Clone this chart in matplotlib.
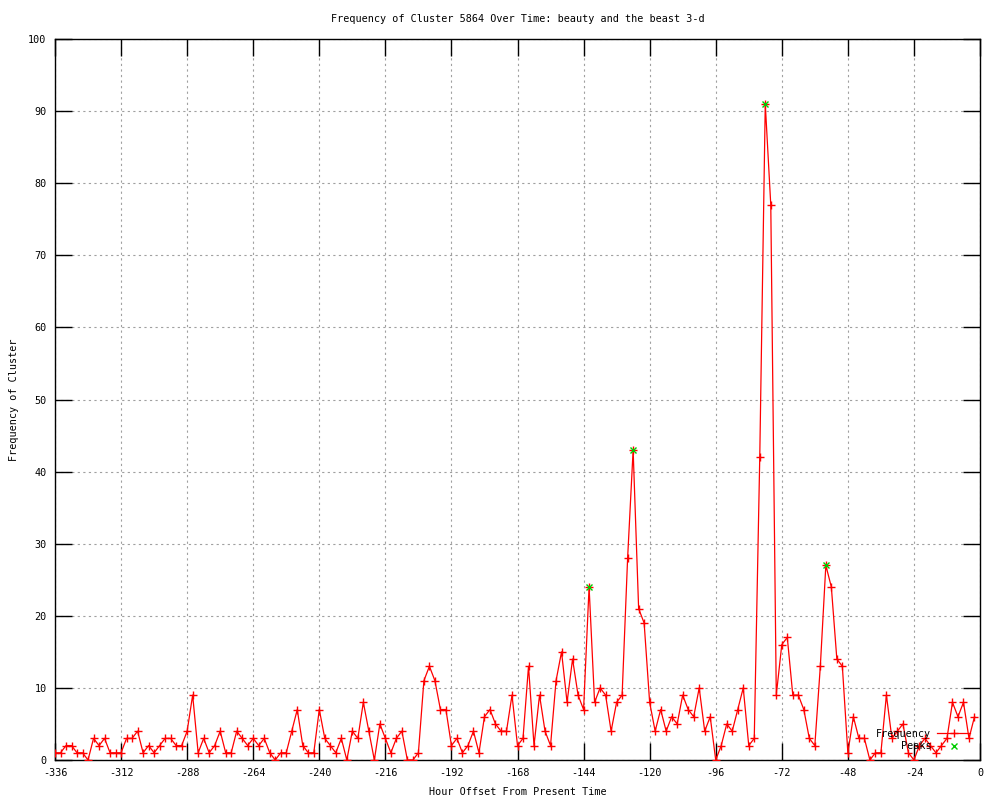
import matplotlib
matplotlib.use("Agg")
import matplotlib.pyplot as plt
import numpy as np

plt.rcParams['axes.unicode_minus'] = False
plt.rcParams['font.family'] = ['DejaVu Sans Mono']

# Hour offsets (every 2 hours from -336 to -2)
hours = list(range(-336, 0, 2))
frequency = [
    1, 1, 2, 2, 1, 1, 0, 3, 2, 3, 1, 1,
    1, 3, 3, 4, 1, 2, 1, 2, 3, 3, 2, 2,
    4, 9, 1, 3, 1, 2, 4, 1, 1, 4, 3, 2,
    3, 2, 3, 1, 0, 1, 1, 4, 7, 2, 1, 1,
    7, 3, 2, 1, 3, 0, 4, 3, 8, 4, 0, 5,
    3, 1, 3, 4, 0, 0, 1, 11, 13, 11, 7, 7,
    2, 3, 1, 2, 4, 1, 6, 7, 5, 4, 4, 9,
    2, 3, 13, 2, 9, 4, 2, 11, 15, 8, 14, 9,
    7, 24, 8, 10, 9, 4, 8, 9, 28, 43, 21, 19,
    8, 4, 7, 4, 6, 5, 9, 7, 6, 10, 4, 6,
    0, 2, 5, 4, 7, 10, 2, 3, 42, 91, 77, 9,
    16, 17, 9, 9, 7, 3, 2, 13, 27, 24, 14, 13,
    1, 6, 3, 3, 0, 1, 1, 9, 3, 4, 5, 1,
    0, 2, 3, 2, 1, 2, 3, 8, 6, 8, 3, 6,
]
peak_hours = [-142, -126, -78, -56]
peak_values = [24, 43, 91, 27]

x_ticks = list(range(-336, 1, 24))
y_ticks = list(range(0, 101, 10))

title = "Frequency of Cluster 5864 Over Time: beauty and the beast 3-d"
xlabel = "Hour Offset From Present Time"
ylabel = "Frequency of Cluster"

fig = plt.figure(figsize=(10, 8), dpi=100)
ax = fig.add_axes([0.055, 0.05, 0.925, 0.90125])

fs = 7.3
ax.plot(hours, frequency, color='#ff0000', lw=0.9, marker='+', ms=6,
        mew=1.0, label='Frequency', zorder=3)
ax.plot(peak_hours, peak_values, linestyle='none', color='#00cc00',
        marker='x', ms=5, mew=1.0, label='Peaks', zorder=4)

ax.set_xlim(-336, 0)
ax.set_ylim(0, 100)
ax.set_xticks(x_ticks)
ax.set_yticks(y_ticks)
ax.tick_params(direction='in', length=12, width=1, top=True, right=True,
               labelsize=fs, colors='black', pad=6)
ax.grid(True, color='#a0a0a0', linestyle=(0, (2, 3)), linewidth=0.8)
for s in ax.spines.values():
    s.set_linewidth(1)
    s.set_color('black')

ax.set_title(title, fontsize=fs, pad=12)
ax.set_xlabel(xlabel, fontsize=fs, labelpad=6)
ax.set_ylabel(ylabel, fontsize=fs, labelpad=7)

leg = ax.legend(loc='lower right', bbox_to_anchor=(0.989, 0.012), frameon=False,
                markerfirst=False, fontsize=fs, handlelength=3.2,
                handletextpad=0.6, labelspacing=0.25, borderpad=0,
                borderaxespad=0)
for t in leg.get_texts():
    t.set_ha('right')

fig.savefig("out.png", dpi=100)
